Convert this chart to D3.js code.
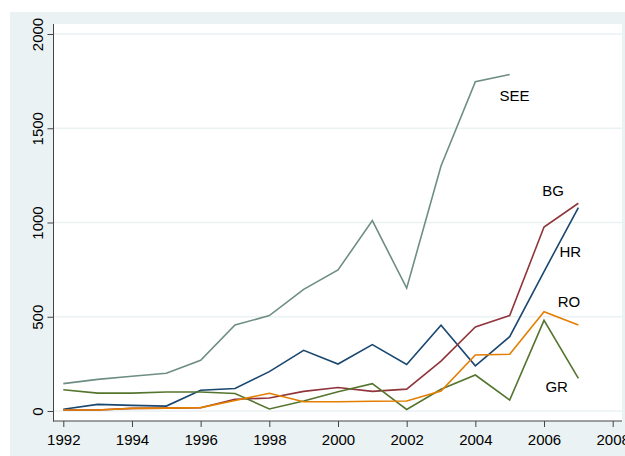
<!DOCTYPE html>
<html>
<head>
    <title>SEE series</title>
    <script src="https://cdn.jsdelivr.net/npm/d3@7"></script>
    <style>
    body { margin: 0; background: #fff; }
    svg text { font-family: Arial, "Liberation Sans", sans-serif; fill: #000; }
    .line { fill: none; stroke-width: 1.6; stroke-linejoin: miter; }
    </style>
</head>
<body>
<div id="chart"></div>

<script>
    // years on the x axis
    var years = [1992, 1993, 1994, 1995, 1996, 1997, 1998, 1999, 2000, 2001, 2002, 2003, 2004, 2005, 2006, 2007];

    // values
    var see = [145, 168, 184, 200, 269, 456, 506, 645, 748, 1010, 652, 1300, 1747, 1785];
    var hr  = [9, 35, 30, 26, 110, 119, 209, 322, 249, 352, 247, 455, 240, 394, 740, 1079];
    var bg  = [5, 5, 14, 15, 17, 62, 69, 104, 125, 104, 116, 265, 446, 506, 976, 1102];
    var gr  = [113, 95, 95, 101, 101, 93, 11, 53, 102, 145, 8, 115, 191, 58, 481, 173];
    var ro  = [5, 5, 14, 15, 18, 56, 94, 49, 49, 52, 53, 106, 297, 301, 527, 456];

    var xTicks = [1992, 1994, 1996, 1998, 2000, 2002, 2004, 2006, 2008];
    var yTicks = [0, 500, 1000, 1500, 2000];

    // series names, colours and where their names sit (year, value)
    var names   = ["SEE", "HR", "BG", "GR", "RO"];
    var colors  = ["#6e8e84", "#1a476f", "#90353b", "#55752f", "#e37e00"];
    var labelAt = [[2004.7, 1646], [2006.45, 815], [2005.95, 1142], [2006.04, 101], [2006.4, 553]];

    var series = [see, hr, bg, gr, ro];

    var w = 625;
    var h = 456;

    var svg = d3.select("#chart")
        .append("svg")
        .attr("width", w)
        .attr("height", h);

    // graph region (light bluish gray) and white plot region
    svg.append("rect")
        .attr("x", 10).attr("y", 12)
        .attr("width", w - 10).attr("height", h - 12)
        .attr("fill", "#eaf2f3");
    svg.append("rect")
        .attr("x", 54).attr("y", 24)
        .attr("width", 568).attr("height", 397)
        .attr("fill", "#fff");

    var x = d3.scaleLinear().domain([1992, 2008]).range([63.3, 612.7]);
    var y = d3.scaleLinear().domain([0, 2000]).range([411, 34]);

    // gridlines
    svg.selectAll(".grid")
        .data(yTicks)
        .enter()
        .append("line")
        .attr("x1", 54).attr("x2", 622)
        .attr("y1", function(d) { return y(d); })
        .attr("y2", function(d) { return y(d); })
        .attr("stroke", "#eaf2f3")
        .attr("stroke-width", 1.5);

    // y axis
    var yAxis = svg.append("g")
        .attr("transform", "translate(53.5,0)")
        .call(d3.axisLeft(y).tickValues(yTicks).tickSize(6).tickSizeOuter(0).tickFormat(d3.format("d")));
    yAxis.select(".domain").remove();
    yAxis.selectAll(".tick line").attr("stroke", "#444");
    yAxis.selectAll(".tick text")
        .attr("x", 0).attr("y", 0).attr("dy", null)
        .attr("text-anchor", "middle")
        .attr("transform", "translate(-11,0) rotate(-90)")
        .style("font-size", "15px");
    svg.append("line")
        .attr("x1", 53.5).attr("x2", 53.5)
        .attr("y1", 24).attr("y2", 421.5)
        .attr("stroke", "#444");

    // x axis
    var xAxis = svg.append("g")
        .attr("transform", "translate(0,421)")
        .call(d3.axisBottom(x).tickValues(xTicks).tickSize(6).tickSizeOuter(0).tickFormat(d3.format("d")));
    xAxis.select(".domain").remove();
    xAxis.selectAll(".tick line").attr("stroke", "#444");
    xAxis.selectAll(".tick text")
        .attr("y", 24).attr("dy", null)
        .style("font-size", "15px");
    svg.append("line")
        .attr("x1", 53).attr("x2", 622)
        .attr("y1", 421).attr("y2", 421)
        .attr("stroke", "#444");

    // lines
    var line = d3.line()
        .x(function(d, i) { return x(years[i]); })
        .y(function(d) { return y(d); });

    svg.selectAll(".line")
        .data(series)
        .enter()
        .append("path")
        .attr("class", "line")
        .attr("stroke", function(d, i) { return colors[i]; })
        .attr("d", line);

    // series names
    svg.selectAll(".lab")
        .data(names)
        .enter()
        .append("text")
        .attr("class", "lab")
        .attr("x", function(d, i) { return x(labelAt[i][0]); })
        .attr("y", function(d, i) { return y(labelAt[i][1]); })
        .style("font-size", "15px")
        .text(function(d) { return d; });
</script>
</body>
</html>
